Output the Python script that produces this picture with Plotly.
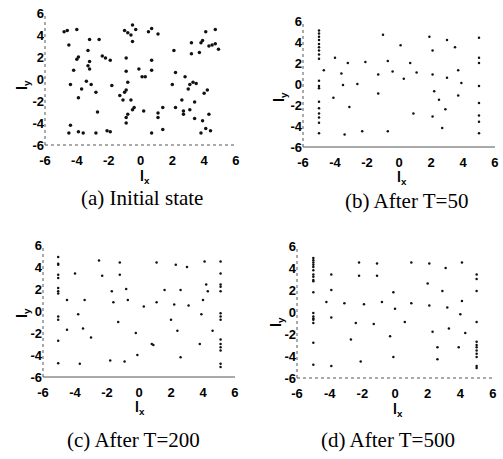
import plotly.graph_objects as go

# ---- data ----
a_x = [-4.8,-4.6,-4.0,-4.5,-3.9,-4.0,-4.2,-4.4,-3.7,-3.9,-3.2,-3.3,-3.2,-3.3,-3.2,-3.4,-3.1,-2.8,-2.7,-2.6,-2.4,-2.2,-1.9,-1.8,
       -4.4,-4.5,-3.9,-3.6,-2.8,-2.1,-1.9,-1.0,-0.8,-0.6,-0.5,-0.3,-0.5,-0.9,-0.9,-0.8,-0.9,-1.0,-1.3,-1.1,-0.6,-0.4,-0.5,-0.8,
       -0.9,-0.9,-0.1,0.1,0.3,0.2,0.5,0.7,1.1,0.7,0.7,0.7,1.1,1.1,1.4,1.4,2.1,2.2,2.0,2.2,2.6,2.7,2.7,2.8,3.0,3.1,3.1,3.2,3.2,
       3.3,3.4,3.4,3.5,3.7,3.8,3.9,3.9,4.0,3.8,4.1,4.1,4.3,4.5,4.7,4.7,4.9,4.2,4.3,4.4]
a_y = [4.3,4.4,4.5,3.1,2.0,1.8,0.8,-0.5,-0.9,-1.7,3.6,2.6,1.6,1.2,0.9,-0.2,-0.5,-1.2,-3.0,3.6,2.1,1.9,1.7,-0.6,
       -4.2,-4.9,-4.8,-4.9,-4.9,-4.7,-4.8,4.4,4.2,4.0,4.9,4.5,3.4,1.9,0.7,-0.3,-1.0,-1.2,-1.5,-1.9,-1.9,-2.6,-2.8,-3.2,
       -3.5,-4.0,0.9,0.2,0.2,-2.9,4.3,4.6,4.1,1.7,0.8,-4.9,-3.1,-3.5,-2.6,-4.6,2.6,0.6,-0.5,-2.6,-1.9,-2.9,-3.2,0.2,-0.9,-0.5,-2.8,3.3,2.3,
       -0.3,-2.1,-3.6,-0.4,2.4,3.3,3.5,-3.8,-1.3,-4.9,-4.5,4.3,3.0,3.1,3.2,4.5,2.7,-1.0,-3.2,-4.7]

b_x = [-5.0]*18 + [5.0]*8 + [-4.7,-4.0,-3.6,-3.5,-4.1,-3.2,-3.1,-3.4,-2.6,-2.1,-2.3,-1.3,-1.3,-1.0,-0.7,-0.7,-0.4,0.1,0.3,0.7,
       0.9,1.1,1.9,2.1,2.1,2.2,2.1,2.5,2.7,3.0,3.0,2.9,3.5,3.7,3.7,3.9]
b_y = [5.1,4.8,4.5,4.2,3.8,3.5,3.2,2.8,2.4,0.3,-0.2,-0.4,-1.7,-2.3,-2.8,-3.2,-3.7,-4.7,
       4.4,2.5,2.0,-0.2,-1.8,-3.0,-3.6,-4.7,
       1.3,2.5,1.0,-0.1,-1.3,2.0,-2.2,-4.8,0.0,2.1,-4.5,0.9,-0.9,4.7,2.2,-4.5,1.2,3.7,0.5,2.0,
       -2.8,1.1,4.5,3.2,0.9,-0.7,-3.1,-1.5,-4.2,4.2,0.6,-2.4,3.5,-1.1,1.3,0.1]

c_x = [-5.05]*12 + [5.1]*14 + [-4.5,-4.5,-4.0,-3.8,-3.5,-3.4,-3.7,-3.0,-2.5,-2.3,-1.7,-1.2,-1.2,-1.6,-1.3,-0.8,-0.7,-1.8,-0.9,
       -0.2,-0.1,0.3,0.8,0.9,1.1,1.1,1.6,2.0,2.2,2.3,2.4,2.6,2.6,3.0,3.1,3.8,3.9,4.0,4.1,4.2,4.3,4.6]
c_y = [4.9,4.3,4.2,3.3,3.0,2.1,1.8,1.6,-0.5,-0.8,-2.7,-4.75,
       4.5,3.4,2.4,2.2,1.8,-0.2,-0.5,-0.8,-2.6,-3.0,-3.3,-3.6,-4.8,-5.1,
       1.0,-1.7,3.4,-0.3,-1.6,1.0,-4.8,-2.4,4.6,3.2,1.8,4.4,3.3,0.8,-1.0,2.0,1.0,-4.5,-4.6,
       -2.0,-4.0,0.4,-3.0,-3.1,4.4,0.8,1.9,-0.8,0.6,4.2,-1.8,1.9,-4.2,4.0,0.5,-3.0,-0.3,1.0,4.5,2.4,1.8,-1.8]

d_x = [-5.0]*18 + [5.0]*12 + [-3.9,-3.9,-3.9,-4.2,-3.9,-3.1,-2.4,-2.7,-2.2,-2.2,-2.1,-1.9,-1.3,-1.1,-1.1,-0.8,-0.3,-0.1,0.0,
       -0.1,0.6,1.0,1.0,2.0,2.1,2.1,2.3,2.6,2.6,2.9,3.1,3.2,3.3,3.9,4.0,4.1,4.1,4.3]
d_y = [4.9,4.7,4.5,4.3,4.1,3.8,3.4,3.2,2.9,2.8,1.8,-0.1,-0.4,-0.6,-0.7,-1.0,-2.8,-4.8,
       3.4,3.0,1.9,-0.9,-2.7,-3.0,-3.2,-3.5,-3.8,-4.1,-4.9,-5.1,
       3.4,2.0,-0.5,0.9,-4.9,0.8,-1.0,-2.5,4.5,3.3,-4.5,0.7,-1.1,4.4,3.3,0.9,-2.2,1.8,0.3,
       -4.1,-0.9,4.5,0.8,2.6,4.4,0.6,-1.8,-3.2,-4.3,1.9,4.0,0.4,-1.5,-3.2,-0.2,1.0,4.5,-1.9]

tick_vals = [-6, -4, -2, 0, 2, 4, 6]
tick_text = ["<b>-6</b>", "<b>-4</b>", "<b>-2</b>", "<b>0</b>", "<b>2</b>", "<b>4</b>", "<b>6</b>"]
captions = ["(a) Initial state", "(b) After T=50", "(c) After T=200", "(d) After T=500"]

W, H = 503, 459
# pixel boxes: (left, right, top, bottom)
boxes = [(45, 236, 13, 145), (303, 495, 21, 147), (43, 235, 245, 377), (297, 493, 246, 378)]
cap_pos = [(142, 198), (406, 201), (133, 440), (388, 440)]
lx_pos = [(145, 177), (402, 178), (140, 408), (398, 410)]
ly_pos = [(23, 85), (280, 97), (23, 313), (277, 322)]
bottom_dash = ["dot", "solid", "solid", "dot"]
marker_size = [3.5, 2.5, 2.5, 2.5]

series = [(a_x, a_y), (b_x, b_y), (c_x, c_y), (d_x, d_y)]

fig = go.Figure()
tickfont = dict(family="Liberation Sans", size=13, color="black")
titlefont = dict(family="Liberation Sans", size=14, color="black")

for i, ((xs, ys), (l, r, t, b)) in enumerate(zip(series, boxes)):
    n = "" if i == 0 else str(i + 1)
    fig.add_trace(go.Scatter(x=xs, y=ys, mode="markers", xaxis="x" + n, yaxis="y" + n,
                             marker=dict(size=marker_size[i], color="#111"), showlegend=False,
                             hoverinfo="skip"))
    xd = [l / W, r / W]
    yd = [1 - b / H, 1 - t / H]
    fig.layout["xaxis" + n] = dict(domain=xd, range=[-6, 6.001], tickvals=tick_vals, ticktext=tick_text,
                                  anchor="y" + n, showgrid=False, zeroline=False, showline=False,
                                  ticks="outside", ticklen=3, tickcolor="rgba(0,0,0,0)",
                                  tickfont=tickfont, ticklabeloverflow="allow", automargin=False)
    fig.layout["yaxis" + n] = dict(domain=yd, range=[-6, 6.001], tickvals=tick_vals, ticktext=tick_text,
                                  anchor="x" + n, showgrid=False, zeroline=False, showline=False,
                                  ticks="", tickfont=tickfont, ticklabeloverflow="allow", automargin=False)
    fig.add_shape(type="line", xref="x" + n + " domain", yref="y" + n + " domain",
                  x0=0, x1=1, y0=0, y1=0, line=dict(color="#555", width=1, dash=bottom_dash[i]))
    fig.add_shape(type="line", xref="x" + n + " domain", yref="y" + n + " domain",
                  x0=0, x1=0, y0=0, y1=1, line=dict(color="#555", width=1, dash="dot"))
    cx, cy = cap_pos[i]
    fig.add_annotation(text=captions[i], x=cx / W, y=1 - cy / H, xref="paper", yref="paper",
                       xanchor="center", yanchor="middle", showarrow=False,
                       font=dict(family="Liberation Serif", size=21, color="black"))
    ax, ay = lx_pos[i]
    fig.add_annotation(text="<b>l<sub>x</sub></b>", x=ax / W, y=1 - ay / H, xref="paper", yref="paper",
                       xanchor="center", yanchor="middle", showarrow=False, font=titlefont)
    ax, ay = ly_pos[i]
    fig.add_annotation(text="<b>l<sub>y</sub></b>", x=ax / W, y=1 - ay / H, xref="paper", yref="paper",
                       xanchor="center", yanchor="middle", showarrow=False, textangle=-90, font=titlefont)

fig.update_layout(width=W, height=H, margin=dict(l=0, r=0, t=0, b=0),
                  paper_bgcolor="white", plot_bgcolor="white", hovermode=False)
fig.write_html("out.html", config={"displayModeBar": False, "staticPlot": True},
               post_script="document.body.style.margin='0';document.body.style.overflow='hidden';")
